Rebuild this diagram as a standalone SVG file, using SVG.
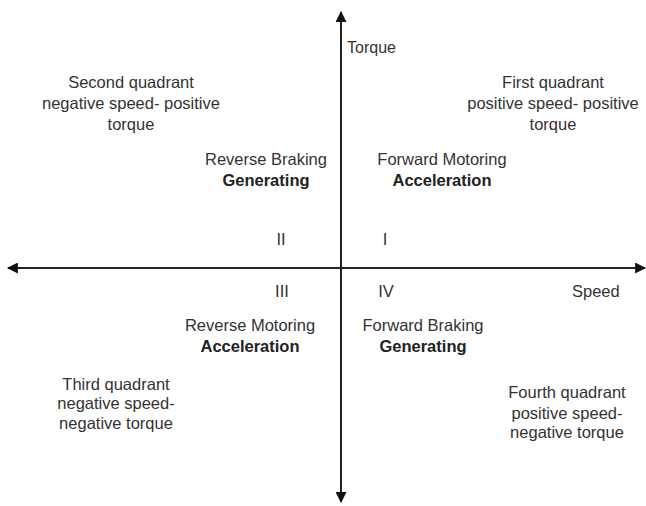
<svg xmlns="http://www.w3.org/2000/svg" width="646" height="506" viewBox="0 0 646 506">
<style>
text{font-family:"Liberation Sans",Arial,sans-serif;font-size:16.5px;fill:#333;text-anchor:middle}
.b{font-weight:bold;fill:#222}
.s{text-anchor:start}
.ax{stroke:#222;stroke-width:2;fill:none}
</style>
<defs>
<marker id="ah" viewBox="0 0 10 10" refX="9" refY="5" markerWidth="6" markerHeight="5.5" orient="auto" markerUnits="strokeWidth">
<path d="M0,0 L10,5 L0,10 z" fill="#111"/>
</marker>
</defs>
<rect width="646" height="506" fill="#fff"/>
<g id="connectors">
<line class="ax" x1="341" y1="268" x2="341" y2="12" marker-end="url(#ah)"/>
<line class="ax" x1="341" y1="268" x2="341" y2="502" marker-end="url(#ah)"/>
<line class="ax" x1="341" y1="268" x2="8" y2="268" marker-end="url(#ah)"/>
<line class="ax" x1="341" y1="268" x2="645" y2="268" marker-end="url(#ah)"/>
</g>
<g id="axis-labels">
<text class="s" x="347" y="53" style="font-size:16px">Torque</text>
<text class="s" x="572" y="297">Speed</text>
</g>
<g id="q2">
<text x="131" y="88">Second quadrant</text>
<text x="131" y="109">negative speed- positive</text>
<text x="131" y="130">torque</text>
</g>
<g id="q1">
<text x="553" y="88">First quadrant</text>
<text x="553" y="109">positive speed- positive</text>
<text x="553" y="130">torque</text>
</g>
<g id="q3">
<text x="116" y="390">Third quadrant</text>
<text x="116" y="409">negative speed-</text>
<text x="116" y="429">negative torque</text>
</g>
<g id="q4">
<text x="567" y="398">Fourth quadrant</text>
<text x="567" y="419">positive speed-</text>
<text x="567" y="438">negative torque</text>
</g>
<g id="rb">
<text x="266" y="165">Reverse Braking</text>
<text class="b" x="266" y="186">Generating</text>
</g>
<g id="fm">
<text x="442" y="165">Forward Motoring</text>
<text class="b" x="442" y="186">Acceleration</text>
</g>
<g id="rm">
<text x="250" y="331">Reverse Motoring</text>
<text class="b" x="250" y="352">Acceleration</text>
</g>
<g id="fbr">
<text x="423" y="331">Forward Braking</text>
<text class="b" x="423" y="352">Generating</text>
</g>
<g id="numerals">
<text x="281" y="245">II</text>
<text x="385" y="245">I</text>
<text x="282" y="297">III</text>
<text x="386" y="297">IV</text>
</g>
</svg>
